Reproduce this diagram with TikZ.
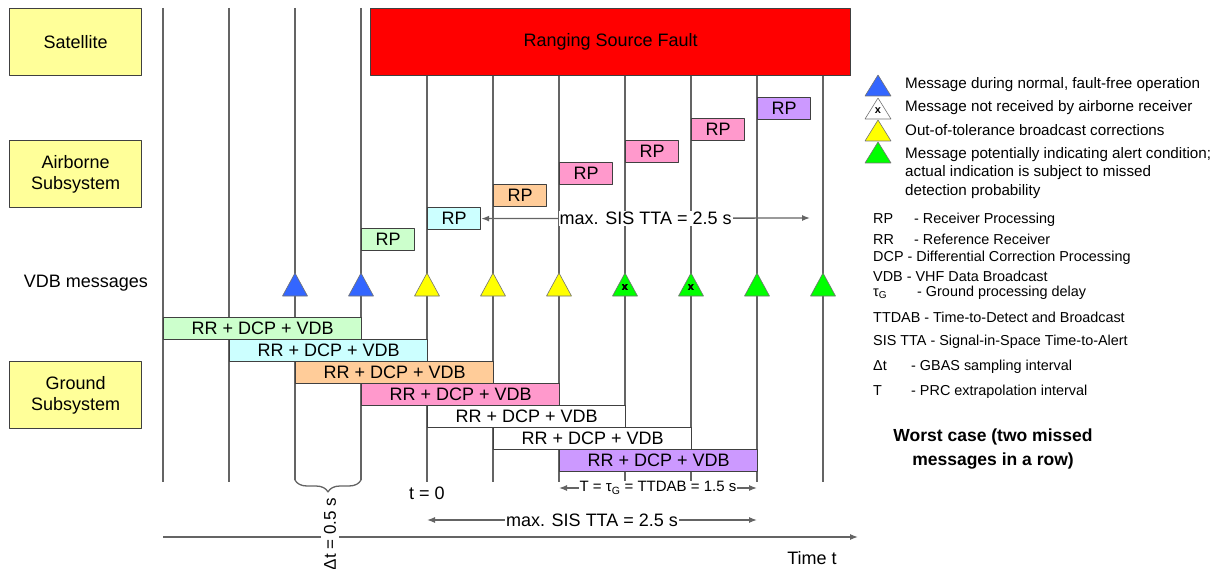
\documentclass[tikz,border=0pt]{standalone}
\usepackage{fontspec}
\setmainfont{Liberation Sans}
\usetikzlibrary{positioning,decorations.pathreplacing,arrows.meta}

\definecolor{sysyellow}{RGB}{255,255,153}
\definecolor{faultred}{RGB}{255,0,0}
\definecolor{boxgray}{RGB}{64,64,64}
\definecolor{linegray}{RGB}{100,100,100}
\definecolor{rpgreen}{RGB}{204,255,204}
\definecolor{rpcyan}{RGB}{204,255,255}
\definecolor{rporange}{RGB}{255,204,153}
\definecolor{rppink}{RGB}{255,153,204}
\definecolor{rppurple}{RGB}{204,153,255}
\definecolor{msgblue}{RGB}{51,102,255}
\definecolor{msgyellow}{RGB}{255,255,0}
\definecolor{msggreen}{RGB}{0,255,0}

\newcommand{\mainfs}{\fontsize{18}{21}\selectfont}
\newcommand{\legfs}{\fontsize{15.2}{18.5}\selectfont}
\newcommand{\abbrfs}{\fontsize{14.4}{17}\selectfont}
% triangle: x, base y, half width, height, fill
\newcommand{\vdbtri}[5]{\filldraw[msgtri,fill=#5] (#1-#3,#2) -- (#1+#3,#2) -- (#1,#2-#4) -- cycle;}

\begin{document}
\begin{tikzpicture}[>={Latex[length=8pt,width=6pt]},x=1pt,y=-1pt,line join=bevel,
  every node/.style={font=\mainfs},
  sysbox/.style={draw=boxgray,fill=sysyellow,line width=1.2pt,minimum width=132pt,
    minimum height=67pt,inner sep=0pt,align=center,anchor=north west},
  faultbox/.style={draw=boxgray,fill=faultred,line width=1.2pt,minimum width=480pt,
    minimum height=67pt,anchor=north west},
  rpbox/.style={draw=boxgray,line width=1.2pt,minimum width=53pt,minimum height=22pt,
    inner sep=0pt,anchor=north west},
  rrbox/.style={rpbox,minimum width=198pt},
  tline/.style={draw=linegray,line width=1.3pt},
  lbl/.style={fill=white,inner sep=1pt},
  msgtri/.style={draw=black!55,line width=0.6pt},
  xmark/.style={font=\fontsize{11}{11}\selectfont\bfseries,inner sep=0pt},
  legtxt/.style={font=\legfs,anchor=west,inner sep=0pt},
  abbrtxt/.style={font=\abbrfs,anchor=west,inner sep=0pt},
]
\useasboundingbox (0,0) rectangle (1228,569);

%% time lines
\foreach \x in {163,229}
  \draw[tline] (\x,8) -- (\x,482);
\foreach \x in {295,361}
  \draw[tline] (\x,8) -- (\x,480);
\foreach \x in {427,493,...,823}
  \draw[tline] (\x,75) -- (\x,482);

%% rows
\node[sysbox] (sat) at (9,8) {Satellite};
\node[sysbox] (air) at (9,140) {Airborne\\Subsystem};
\node[sysbox] (gnd) at (9,361) {Ground\\Subsystem};
\node (vdb) at (86,283) {VDB messages};
\node[faultbox] (fault) at (370,8) {};
\node (faulttxt) at (fault.center) {Ranging Source Fault};

%% receiver processing
\foreach \i/\x/\y/\c in {1/361/228/rpgreen,2/427/207/rpcyan,3/493/184/rporange,
    4/559/162/rppink,5/625/140/rppink,6/691/118/rppink,7/757/97/rppurple}
  \node[rpbox,fill=\c] (rp\i) at (\x,\y) {RP};

%% ground processing
\foreach \i/\x/\y/\c in {1/163/317/rpgreen,2/229/339/rpcyan,3/295/361/rporange,
    4/361/383/rppink,5/427/405/white,6/493/427/white,7/559/449/rppurple}
  \node[rrbox,fill=\c] (rr\i) at (\x,\y) {RR + DCP + VDB};

%% VDB messages
\foreach \x/\c in {295/msgblue,361/msgblue,427/msgyellow,493/msgyellow,559/msgyellow,
    625/msggreen,691/msggreen,757/msggreen,823/msggreen}
  \vdbtri{\x}{296}{12.5}{23}{\c}
\foreach \x in {625,691}
  \node[xmark] (miss\x) at (\x,288) {x};

%% upper SIS TTA
\coordinate (ttaend) at (810,218);
\draw[tline,<->] (rp2.east) -- node[lbl] (ttaup) {max. SIS TTA = 2.5 s} (ttaend);

%% bottom
\draw[tline,decorate,decoration={brace,mirror,amplitude=12pt}] (295,480) -- (361,480);
\coordinate (axstart) at (163,537);
\coordinate (axend) at (858,537);
\draw[tline,->] (axstart) -- (axend);
\node[lbl,rotate=90,font=\fontsize{17}{20}\selectfont,inner sep=3pt] (dt) at (330,534) {Δt = 0.5 s};
\node (tzero) at (427,493) {t = 0};
\coordinate (tgs) at (559,488);
\coordinate (tge) at (757,488);
\draw[tline,<->] (tgs) -- node[lbl,font=\fontsize{15}{17}\selectfont] (tgtxt)
  {T = τ\textsubscript{G} = TTDAB = 1.5 s} (tge);
\coordinate (ttas) at (427,520);
\coordinate (ttae) at (757,520);
\draw[tline,<->] (ttas) -- node[lbl] (ttalow) {max. SIS TTA = 2.5 s} (ttae);
\node (timet) at (812,558) {Time t};

%% legend
\vdbtri{878}{96}{13}{21}{msgblue}
\vdbtri{878}{119}{13}{21}{white}
\node[xmark] (legx) at (878,111) {x};
\vdbtri{878}{141}{13}{21}{msgyellow}
\vdbtri{878}{163}{13}{21}{msggreen}
\node[legtxt] (lg1) at (905,85) {Message during normal, fault-free operation};
\node[legtxt] (lg2) at (905,108) {Message not received by airborne receiver};
\node[legtxt] (lg3) at (905,130) {Out-of-tolerance broadcast corrections};
\node[legtxt,anchor=north west,align=left] (lg4) at (905,147)
  {Message potentially indicating alert condition;\\actual indication is subject to missed\\detection probability};

\node[abbrtxt] (ab1) at (873,220) {\makebox[41pt][l]{RP}- Receiver Processing};
\node[abbrtxt] (ab2) at (873,239) {\makebox[41pt][l]{RR}- Reference Receiver};
\node[abbrtxt] (ab3) at (873,258) {DCP - Differential Correction Processing};
\node[abbrtxt] (ab4) at (873,276) {VDB - VHF Data Broadcast};
\node[abbrtxt] (ab5) at (873,293) {\makebox[44pt][l]{τ\textsubscript{G}}- Ground processing delay};
\node[abbrtxt] (ab6) at (873,317) {TTDAB - Time-to-Detect and Broadcast};
\node[abbrtxt] (ab7) at (873,342) {SIS TTA - Signal-in-Space Time-to-Alert};
\node[abbrtxt] (ab8) at (873,367) {\makebox[38pt][l]{Δt}- GBAS sampling interval};
\node[abbrtxt] (ab9) at (873,392) {\makebox[38pt][l]{T}- PRC extrapolation interval};
\node[align=center,font=\fontsize{17.5}{24}\bfseries\selectfont] (worst) at (993,449)
  {Worst case (two missed\\messages in a row)};
\end{tikzpicture}
\end{document}
